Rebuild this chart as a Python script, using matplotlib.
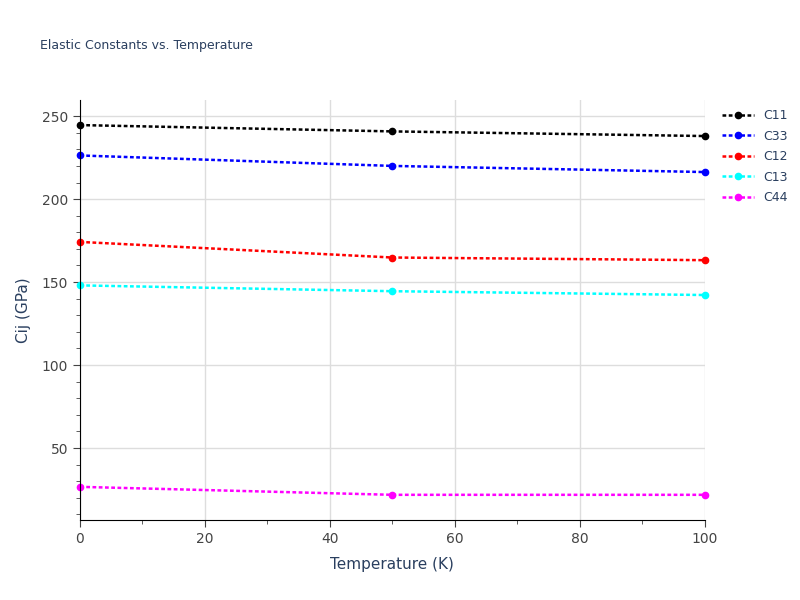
import matplotlib.pyplot as plt
from matplotlib.ticker import MultipleLocator

temperature = [0, 50, 100]
c11 = [244.6, 240.8, 238.0]
c33 = [226.3, 220.0, 216.3]
c12 = [174.2, 164.8, 163.2]
c13 = [148.0, 144.5, 142.2]
c44 = [26.6, 21.8, 21.8]

series = [("C11", c11, "black"), ("C33", c33, "blue"), ("C12", c12, "red"),
          ("C13", c13, "cyan"), ("C44", c44, "magenta")]

fig = plt.figure(figsize=(8, 6), dpi=100)
ax = fig.add_axes([0.1, 0.133, 0.781, 0.7])

for name, vals, col in series:
    ax.plot(temperature, vals, linestyle=(0, (1.5, 1)), linewidth=1.8, color=col,
            marker="o", markersize=4.5, label=name, clip_on=False)

ax.set_xlim(0, 100)
ax.set_ylim(6.5, 259.6)
ax.xaxis.set_major_locator(MultipleLocator(20))
ax.xaxis.set_minor_locator(MultipleLocator(10))
ax.yaxis.set_major_locator(MultipleLocator(50))
ax.yaxis.set_minor_locator(MultipleLocator(10))
ax.grid(True, which="major", color="#dddddd", linewidth=1)
ax.set_axisbelow(True)
for s in ["top", "right"]:
    ax.spines[s].set_visible(False)
for s in ["left", "bottom"]:
    ax.spines[s].set_color("black")
txt = "#2a3f5f"
ax.tick_params(axis="both", which="major", length=5, color="#444444", labelcolor="#444444", labelsize=10)
ax.tick_params(axis="both", which="minor", length=3, color="#444444")
ax.set_xlabel("Temperature (K)", color=txt, fontsize=11, labelpad=8)
ax.set_ylabel("Cij (GPa)", color=txt, fontsize=11, labelpad=8)

fig.text(0.05, 0.918, "Elastic Constants vs. Temperature", color=txt, fontsize=9)
ax.legend(loc="upper left", bbox_to_anchor=(1.01, 1.005), frameon=False, fontsize=9,
          handlelength=2.5, labelcolor=txt, labelspacing=0.6)

fig.savefig("out.png")
